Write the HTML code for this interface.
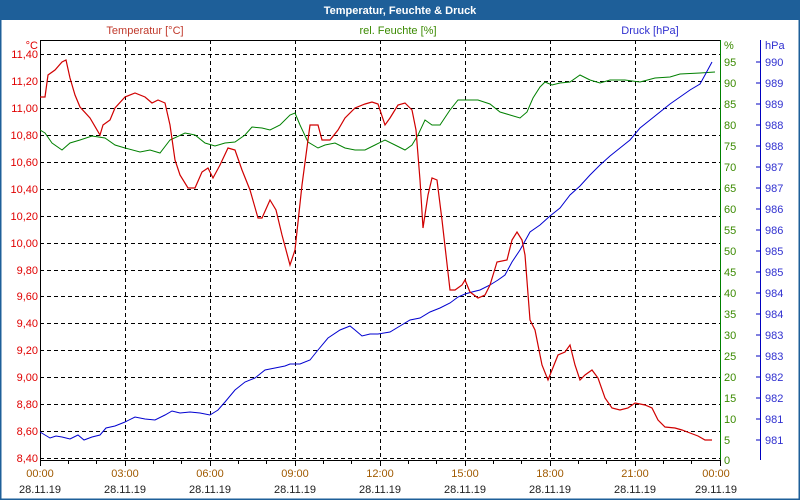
<!DOCTYPE html>
<html><head><meta charset="utf-8"><style>
html,body{margin:0;padding:0;background:#fff;}
svg{display:block;font-family:"Liberation Sans",sans-serif;}
</style></head><body>
<svg width="800" height="500" viewBox="0 0 800 500" xmlns="http://www.w3.org/2000/svg">
<rect x="0" y="0" width="800" height="500" fill="#fff"/>
<rect x="0" y="0" width="800" height="20" fill="#1e5f99"/>
<rect x="0.5" y="0.5" width="799" height="499" fill="none" stroke="#1e5f99" stroke-width="2"/>
<text x="400" y="14" text-anchor="middle" font-size="11" font-weight="bold" fill="#fff">Temperatur, Feuchte &amp; Druck</text>
<g font-size="11">
<text x="145" y="34" text-anchor="middle" fill="#c0392b">Temperatur [°C]</text>
<text x="398" y="34" text-anchor="middle" fill="#3a8a00">rel. Feuchte [%]</text>
<text x="650" y="34" text-anchor="middle" fill="#3030d0">Druck [hPa]</text>
<text x="38" y="49" text-anchor="end" fill="#e00000">°C</text>
<text x="724" y="49" fill="#3a8a00">%</text>
<text x="765" y="49" fill="#3030d0">hPa</text>
</g>
<!-- grid -->
<g stroke="#000" stroke-dasharray="4,3" stroke-width="1">
<line x1="40" y1="54.5" x2="720" y2="54.5"/><line x1="40" y1="81.5" x2="720" y2="81.5"/><line x1="40" y1="108.5" x2="720" y2="108.5"/><line x1="40" y1="135.5" x2="720" y2="135.5"/><line x1="40" y1="162.5" x2="720" y2="162.5"/><line x1="40" y1="189.5" x2="720" y2="189.5"/><line x1="40" y1="216.5" x2="720" y2="216.5"/><line x1="40" y1="243.5" x2="720" y2="243.5"/><line x1="40" y1="270.5" x2="720" y2="270.5"/><line x1="40" y1="296.5" x2="720" y2="296.5"/><line x1="40" y1="323.5" x2="720" y2="323.5"/><line x1="40" y1="350.5" x2="720" y2="350.5"/><line x1="40" y1="377.5" x2="720" y2="377.5"/><line x1="40" y1="404.5" x2="720" y2="404.5"/><line x1="40" y1="431.5" x2="720" y2="431.5"/><line x1="40" y1="458.5" x2="720" y2="458.5"/>
<line x1="125.5" y1="40" x2="125.5" y2="460"/><line x1="210.5" y1="40" x2="210.5" y2="460"/><line x1="295.5" y1="40" x2="295.5" y2="460"/><line x1="380.5" y1="40" x2="380.5" y2="460"/><line x1="465.5" y1="40" x2="465.5" y2="460"/><line x1="550.5" y1="40" x2="550.5" y2="460"/><line x1="635.5" y1="40" x2="635.5" y2="460"/>
</g>
<line x1="40" y1="40.5" x2="720" y2="40.5" stroke="#000"/>
<line x1="40.5" y1="40" x2="40.5" y2="460" stroke="#000"/>
<line x1="40" y1="460.5" x2="720" y2="460.5" stroke="#000"/>
<line x1="720.5" y1="40" x2="720.5" y2="460" stroke="#008000"/>
<line x1="760.5" y1="40" x2="760.5" y2="460" stroke="#0000c0"/>
<g stroke="#000">
<path d="M40.5 460v6M68.5 460v4M96.5 460v4M125.5 460v6M153.5 460v4M181.5 460v4M210.5 460v6M238.5 460v4M266.5 460v4M295.5 460v6M323.5 460v4M351.5 460v4M380.5 460v6M408.5 460v4M436.5 460v4M465.5 460v6M493.5 460v4M521.5 460v4M550.5 460v6M578.5 460v4M606.5 460v4M635.5 460v6M663.5 460v4M691.5 460v4M720.5 460v6"/>
</g>
<g stroke="#0000c0"><path d="M760 62h-4M760 83h-4M760 104h-4M760 125h-4M760 146h-4M760 167h-4M760 188h-4M760 209h-4M760 230h-4M760 251h-4M760 272h-4M760 293h-4M760 314h-4M760 335h-4M760 356h-4M760 377h-4M760 398h-4M760 419h-4M760 440h-4"/></g>
<g font-size="11" fill="#e00000" text-anchor="end">
<text x="38" y="58">11,40</text><text x="38" y="85">11,20</text><text x="38" y="112">11,00</text><text x="38" y="139">10,80</text><text x="38" y="166">10,60</text><text x="38" y="193">10,40</text><text x="38" y="220">10,20</text><text x="38" y="247">10,00</text><text x="38" y="274">9,80</text><text x="38" y="300">9,60</text><text x="38" y="327">9,40</text><text x="38" y="354">9,20</text><text x="38" y="381">9,00</text><text x="38" y="408">8,80</text><text x="38" y="435">8,60</text><text x="38" y="462">8,40</text>
</g>
<g font-size="11" fill="#3a8a00">
<text x="724" y="66">95</text><text x="724" y="87">90</text><text x="724" y="108">85</text><text x="724" y="129">80</text><text x="724" y="150">75</text><text x="724" y="171">70</text><text x="724" y="192">65</text><text x="724" y="213">60</text><text x="724" y="234">55</text><text x="724" y="255">50</text><text x="724" y="276">45</text><text x="724" y="297">40</text><text x="724" y="318">35</text><text x="724" y="339">30</text><text x="724" y="360">25</text><text x="724" y="381">20</text><text x="724" y="402">15</text><text x="724" y="423">10</text><text x="724" y="444">5</text><text x="724" y="464">0</text>
</g>
<g font-size="11" fill="#3030d0">
<text x="765" y="66">990</text><text x="765" y="87">989</text><text x="765" y="108">989</text><text x="765" y="129">988</text><text x="765" y="150">988</text><text x="765" y="171">987</text><text x="765" y="192">987</text><text x="765" y="213">986</text><text x="765" y="234">986</text><text x="765" y="255">985</text><text x="765" y="276">985</text><text x="765" y="297">984</text><text x="765" y="318">984</text><text x="765" y="339">983</text><text x="765" y="360">983</text><text x="765" y="381">982</text><text x="765" y="402">982</text><text x="765" y="423">981</text><text x="765" y="444">981</text>
</g>
<g font-size="11" text-anchor="middle">
<g fill="#a05a00"><text x="40" y="477">00:00</text><text x="125" y="477">03:00</text><text x="210" y="477">06:00</text><text x="295" y="477">09:00</text><text x="380" y="477">12:00</text><text x="465" y="477">15:00</text><text x="550" y="477">18:00</text><text x="635" y="477">21:00</text><text x="716" y="477">00:00</text></g>
<g fill="#222"><text x="40" y="493">28.11.19</text><text x="125" y="493">28.11.19</text><text x="210" y="493">28.11.19</text><text x="295" y="493">28.11.19</text><text x="380" y="493">28.11.19</text><text x="465" y="493">28.11.19</text><text x="550" y="493">28.11.19</text><text x="635" y="493">28.11.19</text><text x="716" y="493">29.11.19</text></g>
</g>
<polyline fill="none" stroke="#008000" stroke-width="1" points="40,130 45,133 52,143 62,150 70,143 80,140 92,136 105,138 115,145 125,148 140,152 150,150 160,153 170,140 185,133 195,135 205,143 215,146 225,143 235,142 245,135 252,127 262,128 270,130 280,125 290,115 295,113 300,125 308,142 318,148 325,145 335,143 345,148 355,150 365,150 375,145 385,140 395,145 405,150 412,145 418,135 425,120 432,125 440,125 450,110 458,100 468,100 478,100 490,104 500,112 510,115 520,118 527,112 533,98 540,87 545,82 552,85 560,83 570,82 580,75 590,80 600,83 610,80 625,80 640,82 655,78 670,77 680,74 700,73 715,72"/>
<polyline fill="none" stroke="#0000d0" stroke-width="1" points="40,432 45,435 50,438 56,436 62,437 70,439 78,435 84,440 92,437 100,435 106,428 115,426 125,422 135,417 145,419 155,420 165,415 172,411 180,413 190,412 200,413 210,415 218,410 225,402 235,390 245,382 255,378 265,370 275,368 285,366 290,364 300,364 310,360 318,350 328,338 340,330 350,326 355,330 362,336 370,334 378,334 390,332 400,326 410,320 420,318 430,312 440,308 450,303 458,297 465,294 472,292 480,290 490,285 498,280 505,275 512,262 520,250 530,232 540,225 550,216 560,208 570,195 580,186 590,175 600,165 610,156 620,148 630,140 640,128 650,120 660,112 670,104 680,97 690,90 700,84 705,75 712,62"/>
<polyline fill="none" stroke="#d00000" stroke-width="1.2" points="40,97 45,97 48,75 55,70 62,62 66,60 70,78 75,95 80,107 90,118 100,135 103,125 110,120 115,108 125,97 135,93 145,97 152,103 158,100 165,103 170,125 175,160 180,175 188,188 195,188 202,172 208,168 213,178 220,165 228,148 235,150 242,170 250,190 258,218 262,218 270,200 276,210 282,235 290,265 295,250 302,185 310,125 318,125 322,140 330,140 338,130 345,118 355,108 365,104 372,102 378,104 385,125 390,118 398,105 405,103 412,110 416,130 420,180 423,228 428,195 432,178 437,180 442,220 450,290 455,290 462,285 465,280 470,292 478,298 485,295 490,285 497,262 507,260 512,240 517,232 522,240 525,255 530,320 535,330 542,365 548,380 552,370 558,355 565,352 570,345 575,365 580,380 585,375 592,370 598,378 605,398 612,408 620,410 628,408 635,403 645,405 652,408 658,420 665,427 675,428 682,430 690,433 698,436 705,440 712,440"/>
</svg>
</body></html>
